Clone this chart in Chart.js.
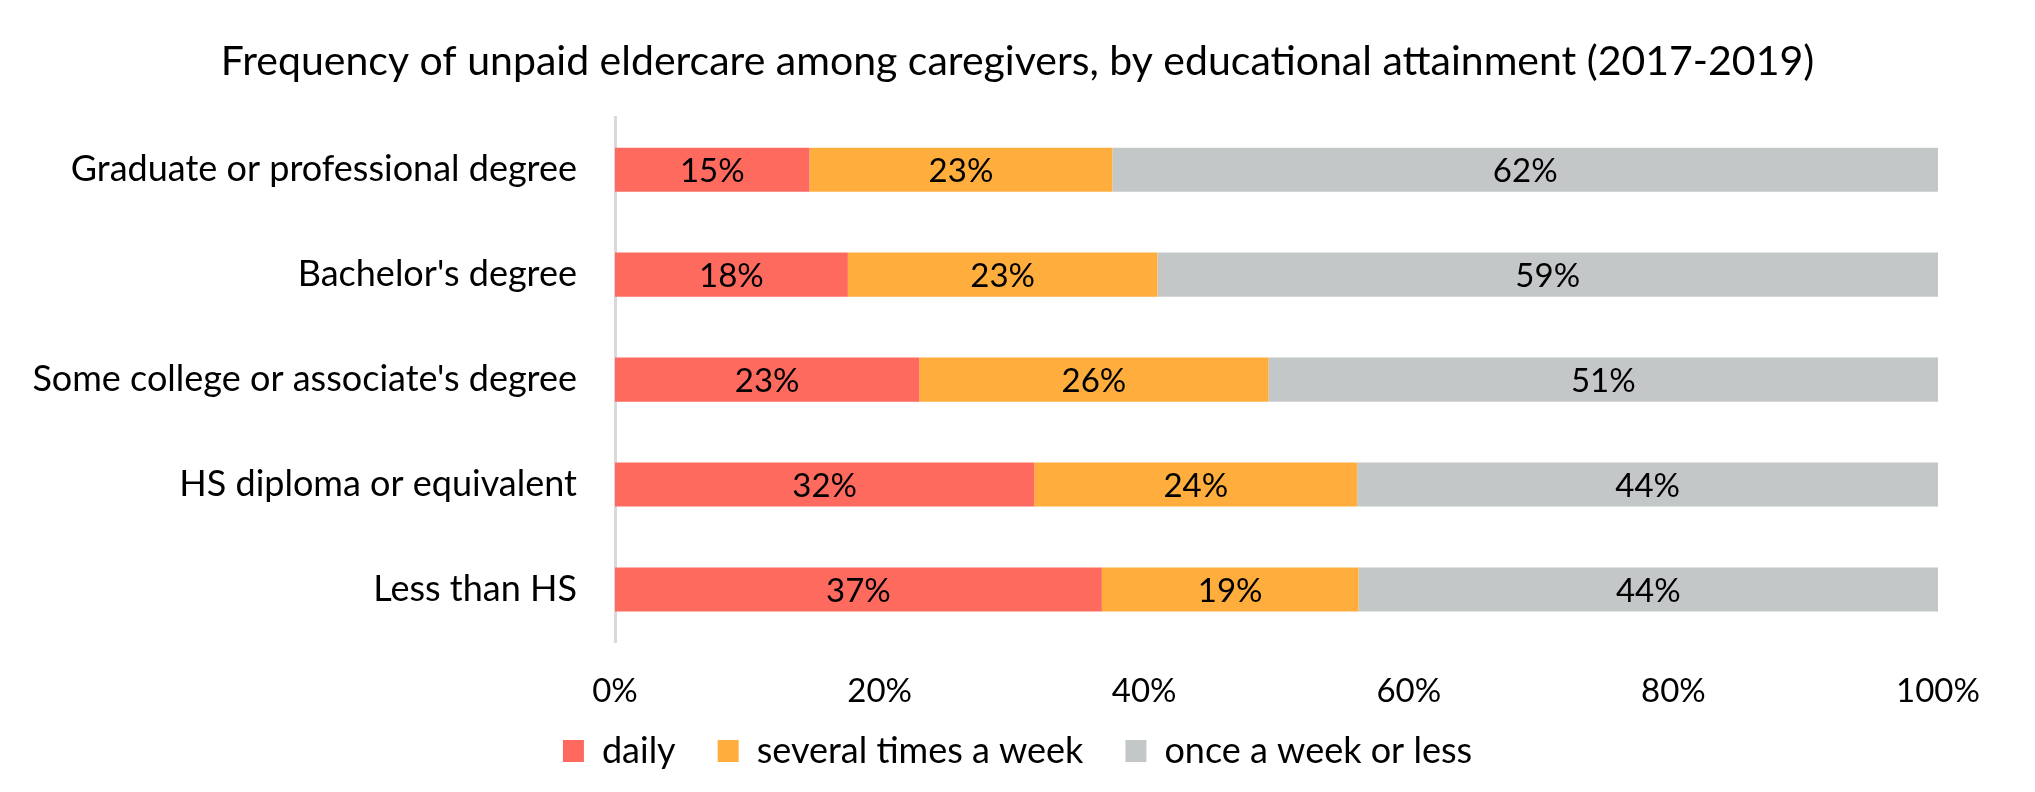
<!DOCTYPE html>
<html>
<head>
<meta charset="utf-8">
<title>Unpaid eldercare by education</title>
<script src="https://cdn.jsdelivr.net/npm/chart.js@4.4.1/dist/chart.umd.min.js"></script>
<style>
    html, body { margin: 0; padding: 0; background: #fff; }
    #wrap { width: 2035px; height: 792px; }
</style>
</head>
<body>
<div id="wrap"><canvas id="eldercareChart"></canvas></div>
<script>
// Data (percent of caregivers)
const categories = [
    'Graduate or professional degree',
    "Bachelor's degree",
    "Some college or associate's degree",
    'HS diploma or equivalent',
    'Less than HS'
];
const daily = [14.7, 17.6, 23.0, 31.7, 36.8];
const severalTimesAWeek = [22.9, 23.4, 26.4, 24.4, 19.4];
const onceAWeekOrLess = [62.4, 59.0, 50.6, 43.9, 43.8];
const seriesNames = ['daily', 'several times a week', 'once a week or less'];
const xTicks = [0, 20, 40, 60, 80, 100];

const colors = {
    daily: '#FF6A5F',
    several: '#FFAD3C',
    once: '#C4C7C8'
};

Chart.defaults.font.family = "Lato, 'Open Sans', sans-serif";
Chart.defaults.color = '#000';

// Draws the rounded % label in the middle of every bar segment
const segmentLabels = {
    id: 'segmentLabels',
    afterDatasetsDraw(chart) {
        const ctx = chart.ctx;
        ctx.save();
        ctx.font = "33px Lato, 'Open Sans', sans-serif";
        ctx.fillStyle = '#000';
        ctx.textAlign = 'center';
        ctx.textBaseline = 'middle';
        chart.data.datasets.forEach((ds, i) => {
            const meta = chart.getDatasetMeta(i);
            meta.data.forEach((bar, j) => {
                const c = bar.getCenterPoint();
                ctx.fillText(Math.round(ds.data[j]) + '%', c.x, c.y + 2);
            });
        });
        ctx.restore();
    }
};

const ctx = document.getElementById('eldercareChart').getContext('2d');
new Chart(ctx, {
    type: 'bar',
    data: {
        labels: categories,
        datasets: [
            { label: seriesNames[0], data: daily, backgroundColor: colors.daily },
            { label: seriesNames[1], data: severalTimesAWeek, backgroundColor: colors.several },
            { label: seriesNames[2], data: onceAWeekOrLess, backgroundColor: colors.once }
        ]
    },
    plugins: [segmentLabels],
    options: {
        indexAxis: 'y',
        responsive: true,
        maintainAspectRatio: false,
        animation: false,
        datasets: {
            bar: {
                categoryPercentage: 1,
                barPercentage: 0.42,
                borderWidth: 0
            }
        },
        layout: {
            padding: { top: 0, right: 0, bottom: 13, left: 0 }
        },
        plugins: {
            title: {
                display: true,
                text: 'Frequency of unpaid eldercare among caregivers, by educational attainment (2017-2019)',
                font: { size: 41, weight: 'normal' },
                color: '#000',
                padding: { top: 37, bottom: 31 }
            },
            legend: {
                position: 'bottom',
                labels: {
                    boxWidth: 21,
                    boxHeight: 22,
                    padding: 24,
                    font: { size: 36 },
                    color: '#000',
                    // a little extra room after each item, like the original legend
                    generateLabels: (chart) => {
                        const items = Chart.defaults.plugins.legend.labels.generateLabels(chart);
                        return items.map((it, i) => {
                            if (i < items.length - 1) it.text = it.text + '\u2002';
                            return it;
                        });
                    }
                }
            },
            tooltip: { enabled: false }
        },
        scales: {
            x: {
                stacked: true,
                min: 0,
                max: 100,
                afterBuildTicks: (scale) => {
                    scale.ticks = xTicks.map(v => ({ value: v }));
                },
                afterFit: (scale) => {
                    scale.height = 67;
                    scale.paddingRight = 97;
                },
                grid: { display: false, drawTicks: false },
                border: { display: false },
                ticks: {
                    padding: 30,
                    font: { size: 33 },
                    color: '#000',
                    callback: (v) => v + '%'
                }
            },
            y: {
                stacked: true,
                afterFit: (scale) => { scale.width = 615; },
                grid: { display: false, drawTicks: false },
                border: { display: true, color: '#D9D9D9', width: 3 },
                ticks: {
                    padding: 38,
                    font: { size: 36 },
                    color: '#000'
                }
            }
        }
    }
});
</script>
</body>
</html>
